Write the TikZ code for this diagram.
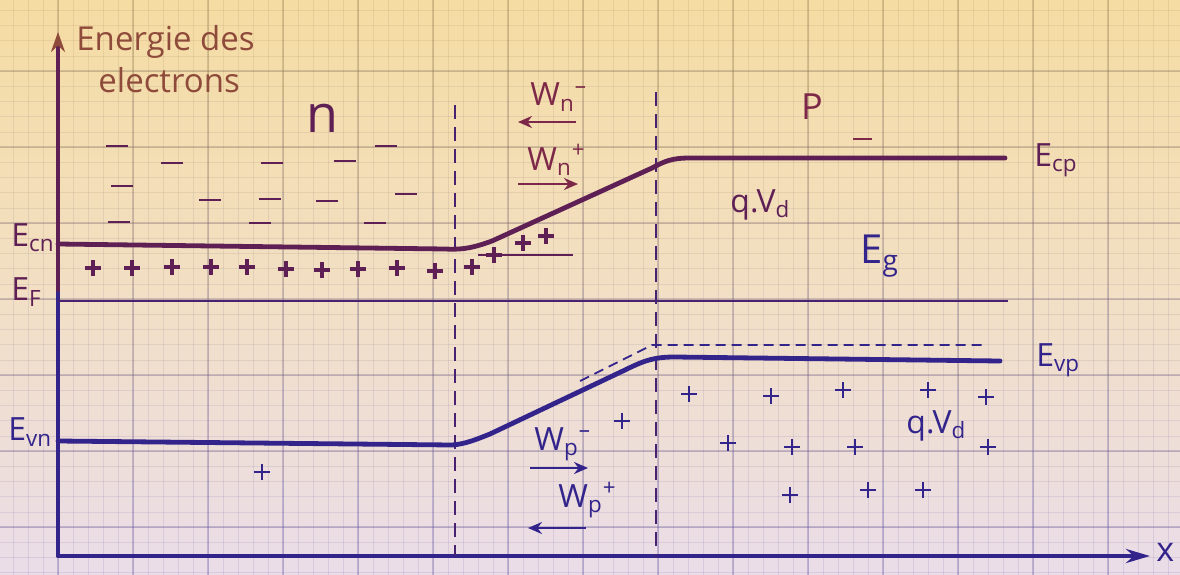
\documentclass[tikz,border=0pt]{standalone}
\usepackage{fontspec}
\setmainfont{Open Sans}
\usepackage{tikz}
\usetikzlibrary{arrows.meta,positioning}
\definecolor{paperhi}{HTML}{F5DCA2}
\definecolor{papermid}{HTML}{F2DFC4}
\definecolor{paperlo}{HTML}{EADDE8}
\definecolor{gridink}{HTML}{5E50A0}
\definecolor{gridtop}{HTML}{8C7650}
\definecolor{inkred}{HTML}{5E1F55}
\definecolor{inkblue}{HTML}{33248C}
\definecolor{inkbrown}{HTML}{8E4A3A}
\definecolor{inkmaroon}{HTML}{7D2848}
\colorlet{inkmid}{inkred!50!inkblue}
\tikzset{
  minorgrid/.style={opacity=0.13,line width=0.3pt},
  majorgrid/.style={opacity=0.3,line width=0.55pt},
  axisline/.style={line width=2pt,line cap=round},
  bandline/.style={line width=2.4pt,line cap=round,line join=round},
  thinband/.style={line width=0.9pt},
  junction/.style={line width=0.9pt,dash pattern=on 7pt off 4pt},
  dashedge/.style={line width=0.9pt,dash pattern=on 5pt off 3pt},
  pluscharge/.style={line width=1.6pt},
  thinplus/.style={line width=1pt},
  minuscharge/.style={line width=1.2pt},
  hand/.style={inner sep=0pt,font=\fontsize{16}{16}\selectfont},
  driftarr/.style={-{Stealth[length=7pt,width=6pt]},line width=1.1pt}
}

\begin{document}
\begin{tikzpicture}[x=0.5pt,y=-0.5pt]
\useasboundingbox (0,0) rectangle (1180,574);
\shade[top color=paperhi,bottom color=paperlo,middle color=papermid] (0,0) rectangle (1180,574);
% graph paper
\foreach \gs in {0,...,5}{
  \pgfmathtruncatemacro{\mixp}{20*\gs}
  \foreach \gx in {13,28,...,1180}
    \draw[minorgrid,gridink!\mixp!gridtop] (\gx,\gs*96) -- (\gx,\gs*96+96);
  \foreach \gx in {58,133,...,1180}
    \draw[majorgrid,gridink!\mixp!gridtop] (\gx,\gs*96) -- (\gx,\gs*96+96);
}
\foreach \gy in {10.2,25.4,...,574}{
  \pgfmathtruncatemacro{\mixp}{\gy/5.74}
  \draw[minorgrid,gridink!\mixp!gridtop] (0,\gy) -- (1180,\gy);
}
\foreach \gy in {71,147,...,574}{
  \pgfmathtruncatemacro{\mixp}{\gy/5.74}
  \draw[majorgrid,gridink!\mixp!gridtop] (0,\gy) -- (1180,\gy);
}

% axes
\coordinate (O) at (58,556);
\coordinate (ymid) at (58,290);
\coordinate (ytip) at (58,32);
\coordinate (xtip) at (1150,556);
\draw[axisline,inkblue] (O) -- (ymid);
\draw[axisline,inkred,-{Stealth[length=10pt,width=7pt,color=inkbrown]}] (ymid) -- (ytip);
\draw[axisline,inkblue,-{Stealth[length=12pt,width=7pt]}] (O) -- (xtip);
\node[hand,inkblue,anchor=west,font=\fontsize{17}{17}\selectfont] (xlab) at (1156,552) {x};
\node[hand,inkbrown,anchor=west,font=\fontsize{16.5}{16.5}\selectfont] (ylab) at (76,42) {Energie des};
\node[hand,inkbrown,anchor=west,font=\fontsize{16.5}{16.5}\selectfont] (ylab2) at (98,80) {electrons};

% junction limits
\coordinate (jl-top) at (455,105);
\coordinate (jl-bot) at (455,556);
\coordinate (jr-top) at (656,92);
\coordinate (jr-bot) at (656,556);
\draw[junction,inkmid] (jl-top) -- (jl-bot);
\draw[junction,inkmid] (jr-top) -- (jr-bot);

% bands
\draw[bandline,inkred] (58,244) -- (445,249) .. controls (465,250) and (475,247) .. (492,241)
  -- (652,168) .. controls (665,161) and (672,158) .. (690,158) -- (1005,158);
\draw[bandline,inkblue] (58,441) -- (452,445) .. controls (465,444) and (475,440) .. (490,434)
  -- (625,370) .. controls (645,360) and (655,357) .. (675,357) -- (1000,361);
\draw[thinband,inkmid] (58,301) -- (1008,301);
\draw[thinband,inkred] (478,255) -- (573,255);
\draw[dashedge,inkblue] (580,381) -- (652,345) -- (985,345);

% band labels
\node[hand,inkred,anchor=west] (ecn) at (11,238) {E\textsubscript{cn}};
\node[hand,inkred,anchor=west] (ef) at (11,292) {E\textsubscript{F}};
\node[hand,inkblue,anchor=west] (evn) at (8,432) {E\textsubscript{vn}};
\node[hand,inkred,anchor=west] (ecp) at (1034,160) {E\textsubscript{cp}};
\node[hand,inkblue,anchor=west] (evp) at (1036,360) {E\textsubscript{vp}};
\node[hand,inkblue,anchor=west,font=\fontsize{20}{20}\selectfont] (eg) at (860,256) {E\textsubscript{g}};
\node[hand,inkred,anchor=west] (qvd) at (730,205) {q.V\textsubscript{d}};
\node[hand,inkblue,anchor=west] (qvd2) at (906,426) {q.V\textsubscript{d}};
\node[hand,inkred,font=\fontsize{26}{26}\selectfont] (nlab) at (322,118) {n};
\node[hand,inkmaroon,font=\fontsize{18}{18}\selectfont] (plab) at (812,107) {P};

% carriers
\node[hand,inkmaroon,anchor=west] (wnm) at (530,97) {W\textsubscript{n}\textsuperscript{--}};
\node[hand,inkmaroon,anchor=west] (wnp) at (527,160) {W\textsubscript{n}\textsuperscript{+}};
\node[hand,inkblue,anchor=west] (wpm) at (534,444) {W\textsubscript{p}\textsuperscript{--}};
\node[hand,inkblue,anchor=west] (wpp) at (558,500) {W\textsubscript{p}\textsuperscript{+}};
\coordinate (wnm-a) at (576,122);
\coordinate (wnm-b) at (518,122);
\coordinate (wnp-a) at (518,184);
\coordinate (wnp-b) at (578,184);
\coordinate (wpm-a) at (530,468);
\coordinate (wpm-b) at (588,468);
\coordinate (wpp-a) at (586,528);
\coordinate (wpp-b) at (528,528);
\draw[driftarr,inkmaroon] (wnm-a) -- (wnm-b);
\draw[driftarr,inkmaroon] (wnp-a) -- (wnp-b);
\draw[driftarr,inkblue] (wpm-a) -- (wpm-b);
\draw[driftarr,inkblue] (wpp-a) -- (wpp-b);

\foreach \mx/\my in {117/146,172/163,122/186,210/200,119/222,272/163,270/199,260/223,
  345/161,327/201,386/146,406/194,375/223}
  \draw[minuscharge,inkred] (\mx-11,\my) -- (\mx+11,\my);
\draw[minuscharge,inkmaroon] (853,139) -- (872,139);
\foreach \px/\py in {93/268,132/268,172/267,211/267,247/267,286/269,322/270,358/269,
  397/268,435/271,472/267,494/255,523/243,546/236}
  \draw[pluscharge,inkred] (\px-8,\py) -- (\px+8,\py) (\px,\py-8) -- (\px,\py+8);
\foreach \px/\py in {262/472,622/421,689/394,771/396,843/390,928/390,986/397,
  728/443,792/447,855/447,988/447,790/495,868/490,923/490}
  \draw[thinplus,inkblue] (\px-8,\py) -- (\px+8,\py) (\px,\py-8) -- (\px,\py+8);
\end{tikzpicture}
\end{document}
